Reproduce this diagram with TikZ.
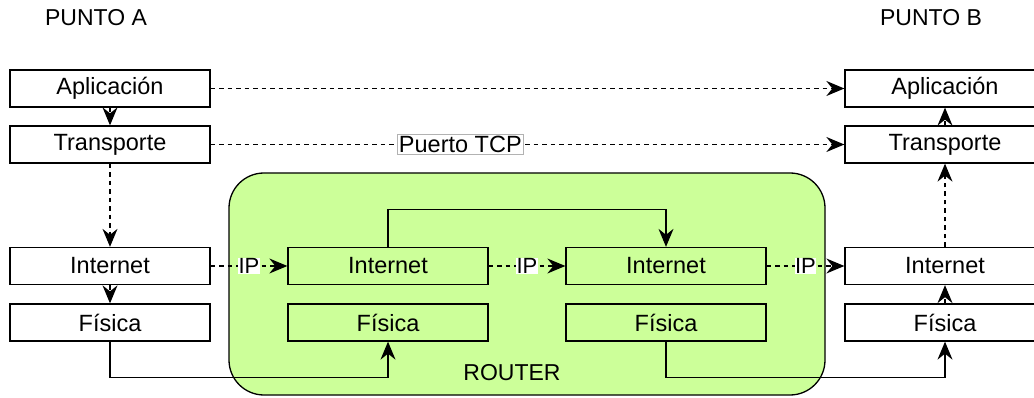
\documentclass[tikz,border=0pt]{standalone}
\usepackage{fontspec}
\setmainfont{Liberation Sans}
\usetikzlibrary{arrows.meta}
\definecolor{verderouter}{HTML}{CCFF99}

\begin{document}
\begin{tikzpicture}[x=1pt, y=-1pt, line width=1.3pt,
    capa/.style={draw, minimum width=200pt, minimum height=37pt, inner sep=0pt, font=\fontsize{23.5}{27}\selectfont},
    texto/.style={font=\fontsize{23}{27}\selectfont},
    flecha/.style={-{Stealth[length=18pt, width=15pt, inset=6pt]}},
    punteada/.style={flecha, dash pattern=on 4.5pt off 4pt},
    etiqueta/.style={solid, fill=white, inner sep=0.5pt, font=\fontsize{22}{26}\selectfont}]
  \clip (0,0) rectangle (1034,398);
  \draw[fill=verderouter, rounded corners=35pt] (229,173) rectangle (825,395);
  \node[texto] (puntoA) at (96,18) {PUNTO A};
  \node[texto] (puntoB) at (931,18) {PUNTO B};
  \node[texto] (router) at (512,373) {ROUTER};
  % punto A
  \node[capa, fill=white] (apA) at (110,88.5) {Aplicación};
  \node[capa, fill=white] (trA) at (110,144.5) {Transporte};
  \node[capa, fill=white] (inA) at (110,266) {Internet};
  \node[capa, fill=white] (fiA) at (110,322.5) {Física};
  % router
  \node[capa] (inR1) at (388,266) {Internet};
  \node[capa] (fiR1) at (388,322.5) {Física};
  \node[capa] (inR2) at (666,266) {Internet};
  \node[capa] (fiR2) at (666,322.5) {Física};
  % punto B
  \node[capa, fill=white] (apB) at (945,88.5) {Aplicación};
  \node[capa, fill=white] (trB) at (945,144.5) {Transporte};
  \node[capa, fill=white] (inB) at (945,266) {Internet};
  \node[capa, fill=white] (fiB) at (945,322.5) {Física};
  \draw[punteada] (apA) -- (apB);
  \draw[punteada] (trA) -- node[pos=0.394, etiqueta, draw=gray!60, line width=0.6pt, inner sep=1.5pt, font=\fontsize{23.5}{27}\selectfont]{Puerto TCP} (trB);
  \draw[punteada] (apA) -- (trA);
  \draw[punteada] (trA) -- (inA);
  \draw[punteada] (inA) -- (fiA);
  \draw[punteada] (inA) -- node[etiqueta]{IP} (inR1);
  \draw[punteada] (inR1) -- node[etiqueta]{IP} (inR2);
  \draw[punteada] (inR2) -- node[etiqueta]{IP} (inB);
  \draw[punteada] (inB) -- (trB);
  \draw[punteada] (trB) -- (apB);
  \draw[punteada] (fiB) -- (inB);
  \draw[flecha] (fiA.south) -- ++(0,36) -| (fiR1.south);
  \draw[flecha] (fiR2.south) -- ++(0,36) -| (fiB.south);
  \draw[flecha] (inR1.north) -- ++(0,-37) -| (inR2.north);
\end{tikzpicture}
\end{document}
